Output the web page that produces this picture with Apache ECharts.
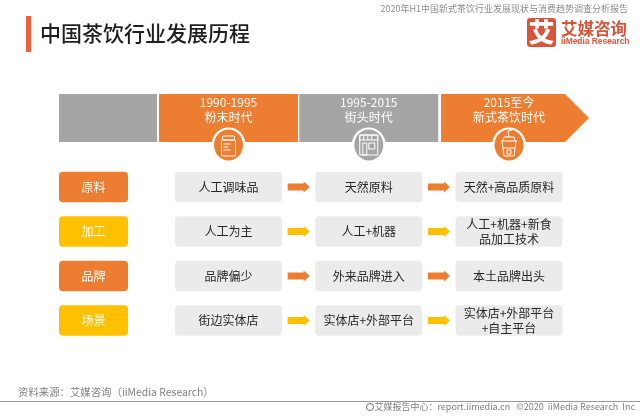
<!DOCTYPE html>
<html>
<head>
<meta charset="utf-8">
<style>
  html, body { margin: 0; padding: 0; background: #fff; }
  #app { width: 640px; height: 416px; }
</style>
<script src="https://cdn.jsdelivr.net/npm/echarts@6/dist/echarts.min.js"></script>
</head>
<body>
<div id="app"></div>
<script>
const stageYears = ["1990-1995", "1995-2015", "2015至今"];
const stageNames = ["粉末时代", "街头时代", "新式茶饮时代"];
const rowNames = ["原料", "加工", "品牌", "场景"];
const materialSteps = ["人工调味品", "天然原料", "天然+高品质原料"];
const processSteps = ["人工为主", "人工+机器", "人工+机器+新食\n品加工技术"];
const brandSteps = ["品牌偏少", "外来品牌进入", "本土品牌出头"];
const sceneSteps = ["街边实体店", "实体店+外部平台", "实体店+外部平台\n+自主平台"];
const stepRows = [materialSteps, processSteps, brandSteps, sceneSteps];

const FONT = '"Noto Sans CJK SC", "Noto Sans", sans-serif';
const ORANGE = "#ED7D31";
const YELLOW = "#FFC000";
const GREY = "#A5A5A5";
const stageColors = [ORANGE, GREY, ORANGE];
const rowColors = [ORANGE, YELLOW, ORANGE, YELLOW];

const myChart = echarts.init(document.getElementById("app"));

const line = (points) => ({
  type: "polyline",
  shape: { points },
  style: { stroke: "#fff", lineWidth: 1, fill: null },
});
const box = (x, y, width, height, r = 0) => ({
  type: "rect",
  shape: { x, y, width, height, r },
  style: { stroke: "#fff", lineWidth: 1, fill: null },
});

// 三个时代的小图标，坐标相对圆心
const icons = [
  [
    box(-6, -9, 12, 4, 1),
    box(-7, -5, 14, 16, 1),
    line([[-5, -1], [2, -1]]),
    line([[-5, 2], [0, 2]]),
    line([[-5, 5], [2, 5]]),
  ],
  [
    box(-9, -10, 18, 20),
    box(-9, -10, 18, 5),
    line([[-5, -10], [-5, -5]]),
    line([[-1, -10], [-1, -5]]),
    line([[3, -10], [3, -5]]),
    box(-6, -2, 4, 12),
    box(0, -2, 6, 6),
  ],
  [
    line([[-8, -4], [8, -4]]),
    line([[-7, -4], [-5, 11], [5, 11], [7, -4]]),
    line([[-6, -4], [-5, -8], [5, -8], [6, -4]]),
    line([[0, -8], [-1, -14], [3, -15]]),
    line([[-6, 3], [6, 3]]),
    box(-2, 5, 4, 4),
  ],
];

const renderStage = (params, api) => {
  const i = api.value(0);
  const [cx, cy] = api.coord([i, 0]);
  const top = cy - 24;
  const bottom = cy + 24;
  const isLast = i === stageYears.length - 1;
  const points = isLast
    ? [[cx - 68, top], [cx + 56, top], [cx + 80, cy], [cx + 56, bottom], [cx - 68, bottom]]
    : [[cx - 69.5, top], [cx + 69.5, top], [cx + 69.5, bottom], [cx - 69.5, bottom]];
  return {
    type: "group",
    children: [
      { type: "polygon", shape: { points }, style: { fill: stageColors[i] } },
      {
        type: "text",
        x: cx,
        y: cy - 8,
        style: {
          text: stageYears[i] + "\n" + stageNames[i],
          fill: "#fff",
          font: "12px " + FONT,
          lineHeight: 15,
          align: "center",
          verticalAlign: "middle",
        },
      },
      {
        type: "ellipse",
        shape: { cx, cy: bottom + 3, rx: 17, ry: 17.5 },
        style: { fill: "#fff" },
      },
      {
        type: "ellipse",
        shape: { cx, cy: bottom + 3, rx: 14.5, ry: 15.5 },
        style: { fill: stageColors[i] },
      },
      { type: "group", x: cx, y: bottom + 3, children: icons[i] },
    ],
  };
};

const renderCell = (params, api) => {
  const col = api.value(0);
  const row = api.value(1);
  const [cx, cy] = api.coord([col, row]);
  const children = [
    {
      type: "rect",
      shape: { x: cx - 53.5, y: cy - 15.2, width: 107, height: 30.4, r: 4 },
      style: { fill: "#EBEBEB" },
    },
    {
      type: "text",
      x: cx,
      y: cy,
      style: {
        text: stepRows[row][col],
        fill: "#262626",
        font: "12px " + FONT,
        lineHeight: 15,
        align: "center",
        verticalAlign: "middle",
      },
    },
  ];
  if (col < stageYears.length - 1) {
    // 箭头画在两列中间
    const ax = cx + api.size([1, 0])[0] / 2;
    children.push({
      type: "polygon",
      shape: {
        points: [
          [ax - 11, cy - 3.5], [ax + 5, cy - 3.5], [ax + 5, cy - 5.5], [ax + 11, cy],
          [ax + 5, cy + 5.5], [ax + 5, cy + 3.5], [ax - 11, cy + 3.5],
        ],
      },
      style: { fill: rowColors[row] },
    });
  }
  return { type: "group", children };
};

const renderRowName = (params, api) => {
  const row = api.value(1);
  const [cx, cy] = api.coord([0, row]);
  const width = api.size([1, 0])[0];
  return {
    type: "group",
    children: [
      {
        type: "rect",
        shape: { x: cx - width / 2, y: cy - 15.2, width, height: 30.4, r: 4 },
        style: { fill: rowColors[row] },
      },
      {
        type: "text",
        x: cx,
        y: cy,
        style: {
          text: rowNames[row],
          fill: "#fff",
          font: "12px " + FONT,
          align: "center",
          verticalAlign: "middle",
        },
      },
    ],
  };
};

const cellData = [];
stepRows.forEach((steps, row) => steps.forEach((_, col) => cellData.push([col, row])));

const hidden = { show: false };

myChart.setOption({
  animation: false,
  grid: [
    { left: 158.4, top: 94, width: 420.75, height: 48 },
    { left: 158.4, top: 164.7, width: 420.75, height: 178 },
    { left: 59, top: 164.7, width: 69, height: 178 },
  ],
  xAxis: [
    { type: "category", gridIndex: 0, data: stageYears, ...hidden },
    { type: "category", gridIndex: 1, data: stageYears, ...hidden },
    { type: "category", gridIndex: 2, data: ["维度"], ...hidden },
  ],
  yAxis: [
    { type: "category", gridIndex: 0, data: ["时代"], ...hidden },
    { type: "category", gridIndex: 1, data: rowNames, inverse: true, ...hidden },
    { type: "category", gridIndex: 2, data: rowNames, inverse: true, ...hidden },
  ],
  series: [
    {
      type: "custom",
      xAxisIndex: 0,
      yAxisIndex: 0,
      clip: false,
      renderItem: renderStage,
      data: stageYears.map((_, i) => [i, 0]),
      z: 3,
    },
    {
      type: "custom",
      xAxisIndex: 1,
      yAxisIndex: 1,
      clip: false,
      renderItem: renderCell,
      data: cellData,
    },
    {
      type: "custom",
      xAxisIndex: 2,
      yAxisIndex: 2,
      clip: false,
      renderItem: renderRowName,
      data: rowNames.map((_, i) => [0, i]),
    },
  ],
  graphic: [
    { type: "rect", shape: { x: 59, y: 94, width: 98, height: 48 }, style: { fill: GREY } },
    { type: "rect", shape: { x: 26, y: 16, width: 5, height: 36 }, style: { fill: "#F0603A" } },
    {
      type: "text",
      x: 40,
      y: 33,
      style: { text: "中国茶饮行业发展历程", fill: "#1f1f1f", font: "500 21px " + FONT, verticalAlign: "middle" },
    },
    {
      type: "text",
      x: 628,
      y: 9,
      style: {
        text: "2020年H1中国新式茶饮行业发展现状与消费趋势调查分析报告",
        fill: "#8c8c8c",
        font: "9px " + FONT,
        align: "right",
        verticalAlign: "middle",
      },
    },
    // logo
    { type: "rect", shape: { x: 527, y: 18, width: 29, height: 29, r: 3 }, style: { fill: "#D9553A" } },
    {
      type: "text",
      x: 541.5,
      y: 32,
      style: { text: "艾", fill: "#fff", font: "900 26px " + FONT, align: "center", verticalAlign: "middle" },
    },
    {
      type: "text",
      x: 561,
      y: 29,
      style: { text: "艾媒咨询", fill: "#D9553A", font: "700 16.5px " + FONT, verticalAlign: "middle" },
    },
    {
      type: "text",
      x: 561,
      y: 41.5,
      style: {
        text: "iiMedia Research",
        fill: "#D9553A",
        font: '700 8.4px "Liberation Sans", sans-serif',
        verticalAlign: "middle",
      },
    },
    // 页脚
    {
      type: "text",
      x: 18,
      y: 392,
      style: {
        text: "资料来源：艾媒咨询（iiMedia Research）",
        fill: "#808080",
        font: "10.4px " + FONT,
        verticalAlign: "middle",
      },
    },
    { type: "line", shape: { x1: 0, y1: 401.5, x2: 640, y2: 401.5 }, style: { stroke: "#9a9a9a", lineWidth: 1 } },
    {
      type: "circle",
      shape: { cx: 370, cy: 407, r: 3.5 },
      style: { fill: null, stroke: "#6f6f6f", lineWidth: 1 },
    },
    {
      type: "text",
      x: 635,
      y: 407,
      style: {
        text: "艾媒报告中心：report.iimedia.cn   ©2020  iiMedia Research  Inc",
        fill: "#7f7f7f",
        font: "9px " + FONT,
        align: "right",
        verticalAlign: "middle",
      },
    },
  ],
});
</script>
</body>
</html>
